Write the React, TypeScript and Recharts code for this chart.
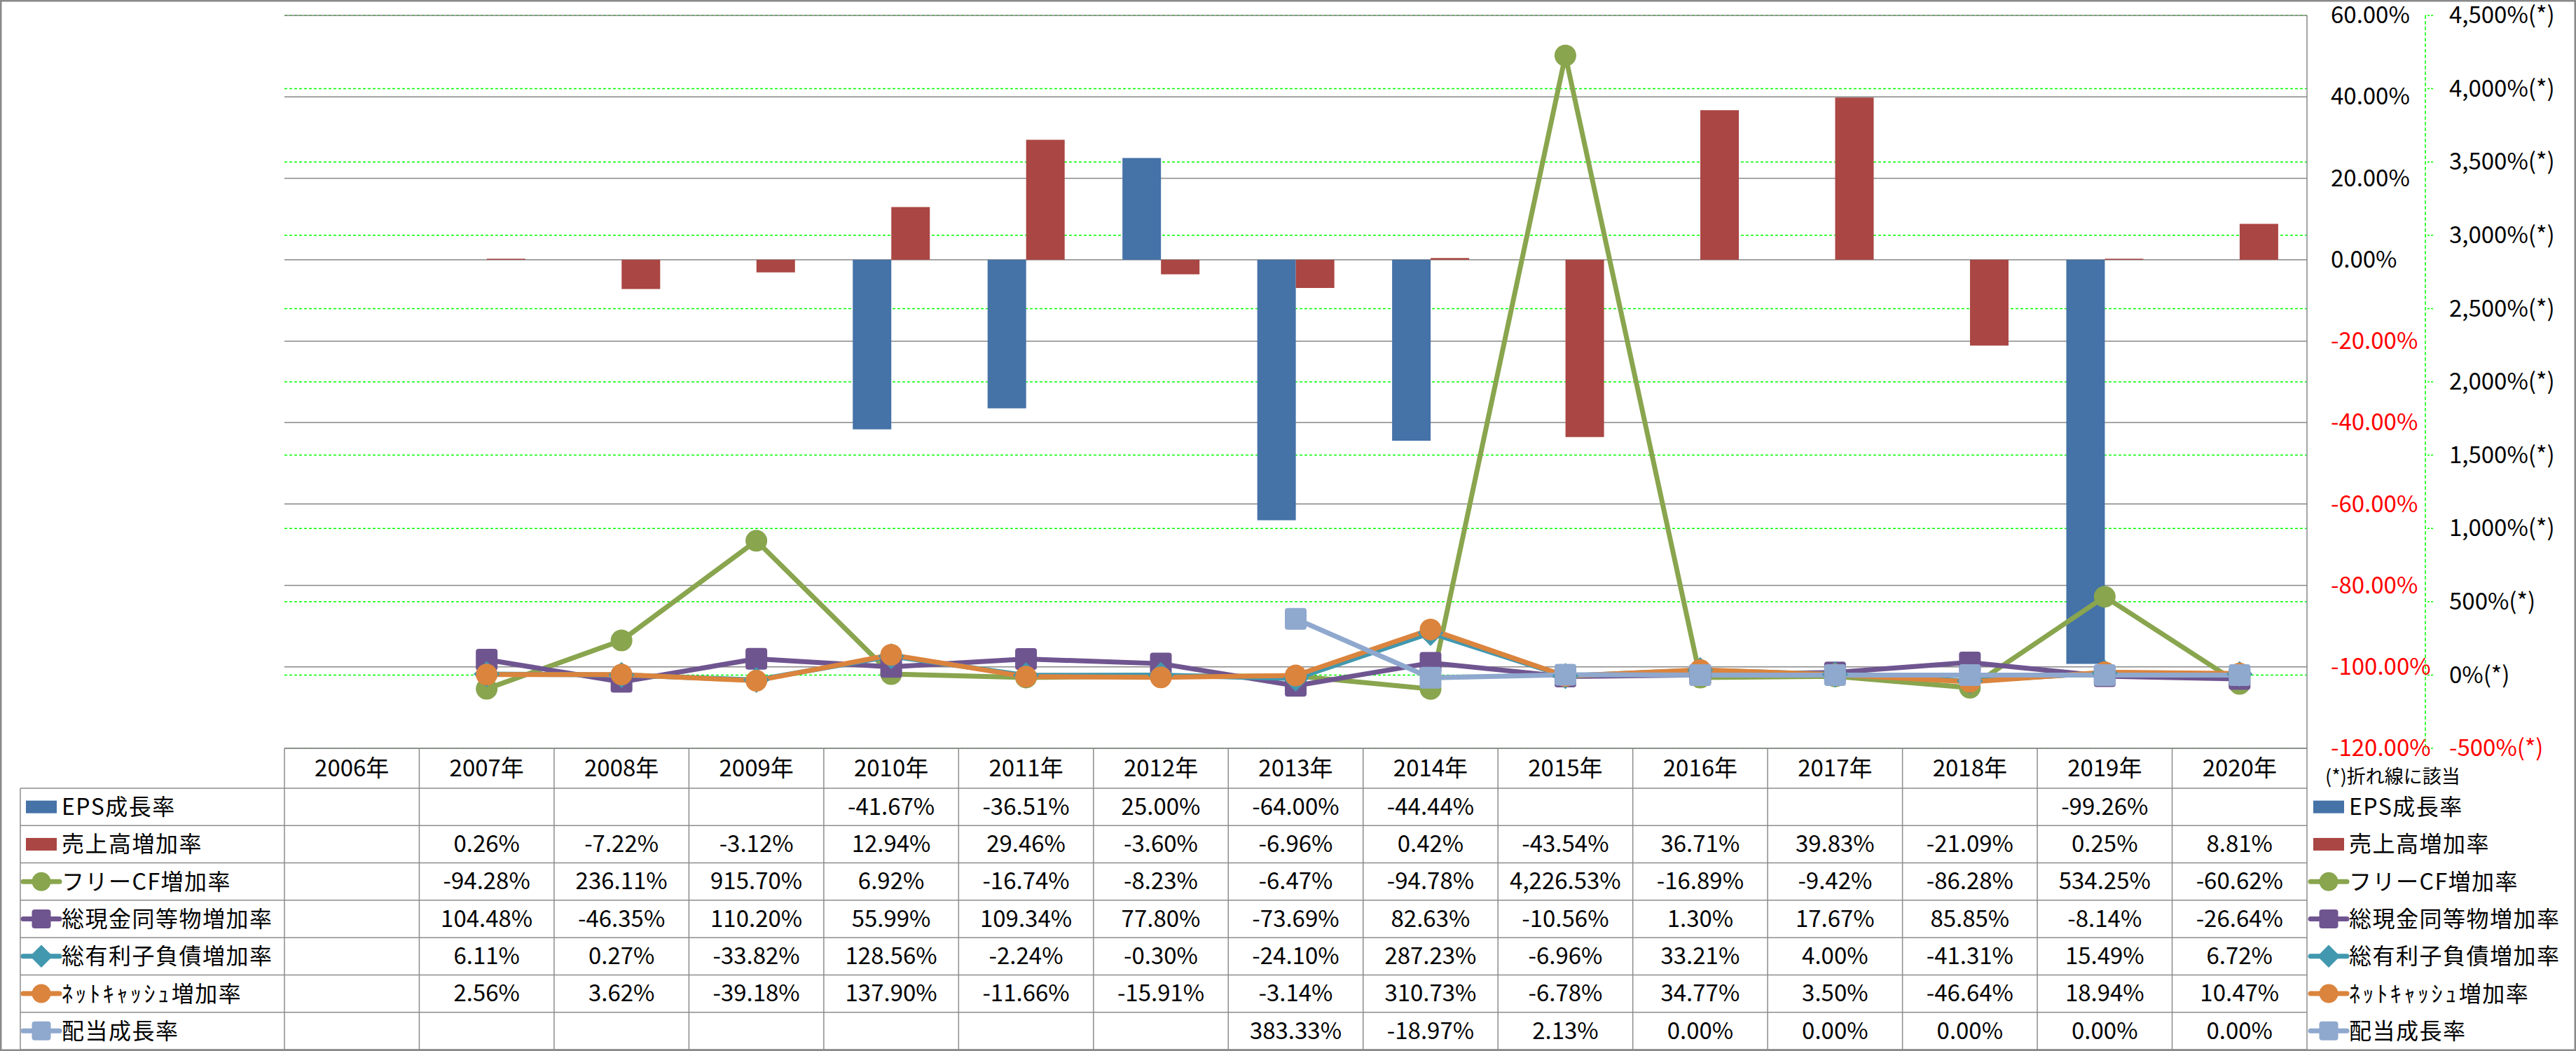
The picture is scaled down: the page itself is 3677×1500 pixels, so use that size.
import React from 'react';
import { ComposedChart, Bar, Line, XAxis, YAxis, CartesianGrid } from 'recharts';

// ---------- data ----------
const years = ['2006年', '2007年', '2008年', '2009年', '2010年', '2011年', '2012年', '2013年', '2014年', '2015年', '2016年', '2017年', '2018年', '2019年', '2020年'];
const epsGrowth = [null, null, null, null, -41.67, -36.51, 25.0, -64.0, -44.44, null, null, null, null, -99.26, null];
const salesGrowth = [null, 0.26, -7.22, -3.12, 12.94, 29.46, -3.6, -6.96, 0.42, -43.54, 36.71, 39.83, -21.09, 0.25, 8.81];
const freeCfGrowth = [null, -94.28, 236.11, 915.7, 6.92, -16.74, -8.23, -6.47, -94.78, 4226.53, -16.89, -9.42, -86.28, 534.25, -60.62];
const cashGrowth = [null, 104.48, -46.35, 110.2, 55.99, 109.34, 77.8, -73.69, 82.63, -10.56, 1.3, 17.67, 85.85, -8.14, -26.64];
const debtGrowth = [null, 6.11, 0.27, -33.82, 128.56, -2.24, -0.3, -24.1, 287.23, -6.96, 33.21, 4.0, -41.31, 15.49, 6.72];
const netCashGrowth = [null, 2.56, 3.62, -39.18, 137.9, -11.66, -15.91, -3.14, 310.73, -6.78, 34.77, 3.5, -46.64, 18.94, 10.47];
const dividendGrowth = [null, null, null, null, null, null, null, 383.33, -18.97, 2.13, 0.0, 0.0, 0.0, 0.0, 0.0];

const barAxisTicks = [60, 40, 20, 0, -20, -40, -60, -80, -100, -120];
const lineAxisTicks = [4500, 4000, 3500, 3000, 2500, 2000, 1500, 1000, 500, 0, -500];
const lineAxisNote = '(*)折れ線に該当';

const seriesNames = ['EPS成長率', '売上高増加率', 'フリーCF増加率', '総現金同等物増加率', '総有利子負債増加率', 'ﾈｯﾄｷｬｯｼｭ増加率', '配当成長率'];
const seriesValues = [epsGrowth, salesGrowth, freeCfGrowth, cashGrowth, debtGrowth, netCashGrowth, dividendGrowth];
const seriesKeys = ['eps', 'sales', 'fcf', 'cash', 'debt', 'net', 'div'];

// ---------- styles ----------
const seriesStyle = [
  { color: '#4572A7', kind: 'bar' },
  { color: '#AA4643', kind: 'bar' },
  { color: '#89A54E', kind: 'circle' },
  { color: '#6F5590', kind: 'square' },
  { color: '#4198AF', kind: 'diamond' },
  { color: '#DB843D', kind: 'circle' },
  { color: '#8FA8CE', kind: 'square' },
];

const FONT = '"Noto Sans CJK JP", "Noto Sans", sans-serif';
const W = 3677;
const H = 1500;
const PLOT_LEFT = 406;
const PLOT_TOP = 22;
const CHART_H = 1090;
const PLOT_BOTTOM = 1068;
const AXIS1_W = 169;
const AXIS2_W = 200;
const MARGIN_RIGHT = 15;
const PLOT_RIGHT = W - MARGIN_RIGHT - AXIS1_W - AXIS2_W;
const GRID_GRAY = '#878787';
const GREEN = '#00FF00';

const chartData = years.map((y, i) => {
  const row: any = { year: y };
  seriesKeys.forEach((k, s) => {
    row[k] = seriesValues[s][i];
  });
  return row;
});

const fmtPct = (v: number | null) =>
  v == null ? '' : v.toLocaleString('en-US', { minimumFractionDigits: 2, maximumFractionDigits: 2 }) + '%';

// split label into runs so half-width katakana get a little extra spacing
function LabelRuns({ text }: { text: string }) {
  const runs: { t: string; hw: boolean }[] = [];
  for (const ch of Array.from(text)) {
    const code = ch.codePointAt(0) || 0;
    const hw = code >= 0xff61 && code <= 0xff9f;
    const last = runs[runs.length - 1];
    if (last && last.hw === hw) last.t += ch;
    else runs.push({ t: ch, hw });
  }
  return (
    <>
      {runs.map((r, i) => (
        <tspan key={i} letterSpacing={r.hw ? 3.6 : 1.5}>
          {r.t}
        </tspan>
      ))}
    </>
  );
}

function MarkerShape({ cx, cy, kind, color, size }: any) {
  if (cx == null || cy == null || isNaN(cx) || isNaN(cy)) return <g />;
  if (kind === 'circle') return <circle cx={cx} cy={cy} r={size / 2} fill={color} />;
  if (kind === 'square')
    return <rect x={cx - size / 2} y={cy - size / 2} width={size} height={size} rx={4} ry={4} fill={color} />;
  const d = size * 0.6;
  return <polygon points={`${cx},${cy - d} ${cx + d},${cy} ${cx},${cy + d} ${cx - d},${cy}`} fill={color} />;
}

const makeDot = (kind: string, color: string, name: string) => (p: any) => {
  const k = `${name}-${p.index}`;
  if (p.value == null || p.cy == null) return <g key={k} />;
  return (
    <g key={k}>
      <MarkerShape cx={p.cx} cy={p.cy} kind={kind} color={color} size={31} />
    </g>
  );
};

const BarAxisTick = (props: any) => {
  const v = props.payload.value;
  return (
    <text x={props.x} y={props.y} dy="0.34em" textAnchor="start" fontFamily={FONT} fontSize={33} fill={v < 0 ? '#FF0000' : '#000000'}>
      {v.toFixed(2) + '%'}
    </text>
  );
};

const LineAxisTick = (props: any) => {
  const v = props.payload.value;
  return (
    <text x={props.x} y={props.y} dy="0.34em" textAnchor="start" fontFamily={FONT} fontSize={33} fill={v < 0 ? '#FF0000' : '#000000'}>
      {v.toLocaleString('en-US') + '%(*)'}
    </text>
  );
};

function LegendIcon({ x, y, s, lineW }: any) {
  const st = seriesStyle[s];
  if (st.kind === 'bar') return <rect x={x + 4} y={y - 9} width={44} height={18} fill={st.color} />;
  return (
    <g>
      <line x1={x} y1={y} x2={x + lineW} y2={y} stroke={st.color} strokeWidth={7} strokeLinecap="round" />
      <MarkerShape cx={x + lineW / 2} cy={y} kind={st.kind} color={st.color} size={27} />
    </g>
  );
}

function TableOverlay() {
  const colW = (PLOT_RIGHT - PLOT_LEFT) / years.length;
  const headTop = PLOT_BOTTOM;
  const headBottom = 1125;
  const tableBottom = 1498;
  const rowH = (tableBottom - headBottom) / seriesNames.length;
  const labelLeft = 29;
  const lineColor = '#8C8C8C';
  const els: any[] = [];
  els.push(<line key="ht" x1={PLOT_LEFT} y1={headTop} x2={PLOT_RIGHT} y2={headTop} stroke={lineColor} strokeWidth={1.5} />);
  for (let r = 0; r <= seriesNames.length; r++) {
    const y = headBottom + r * rowH;
    els.push(<line key={`h${r}`} x1={labelLeft} y1={y} x2={PLOT_RIGHT} y2={y} stroke={lineColor} strokeWidth={1.5} />);
  }
  for (let c = 0; c <= years.length; c++) {
    const x = PLOT_LEFT + c * colW;
    els.push(<line key={`v${c}`} x1={x} y1={headTop} x2={x} y2={c === years.length ? H : tableBottom} stroke={lineColor} strokeWidth={1.5} />);
  }
  els.push(<line key="vl" x1={labelLeft} y1={headBottom} x2={labelLeft} y2={tableBottom} stroke={lineColor} strokeWidth={1.5} />);
  years.forEach((yr, c) => {
    els.push(
      <text key={`yh${c}`} x={PLOT_LEFT + (c + 0.5) * colW} y={(headTop + headBottom) / 2} dy="0.36em" textAnchor="middle" fontFamily={FONT} fontSize={33} fill="#000">
        {yr}
      </text>
    );
  });
  seriesNames.forEach((name, s) => {
    const cy = headBottom + (s + 0.5) * rowH;
    els.push(<LegendIcon key={`li${s}`} x={33} y={cy} s={s} lineW={52} />);
    els.push(
      <text key={`ln${s}`} x={88} y={cy} dy="0.36em" fontFamily={FONT} fontSize={32} fill="#000">
        <LabelRuns text={name} />
      </text>
    );
    seriesValues[s].forEach((v, c) => {
      if (v == null) return;
      els.push(
        <text key={`c${s}-${c}`} x={PLOT_LEFT + (c + 0.5) * colW} y={cy} dy="0.34em" textAnchor="middle" fontFamily={FONT} fontSize={33} fill="#000">
          {fmtPct(v)}
        </text>
      );
    });
    els.push(<LegendIcon key={`ri${s}`} x={PLOT_RIGHT + 5} y={cy} s={s} lineW={52} />);
    els.push(
      <text key={`rn${s}`} x={PLOT_RIGHT + 60} y={cy} dy="0.36em" fontFamily={FONT} fontSize={32} fill="#000">
        <LabelRuns text={name} />
      </text>
    );
  });
  els.push(
    <text key="note" x={PLOT_RIGHT + 26} y={1108} dy="0.36em" fontFamily={FONT} fontSize={27} fill="#000">
      {lineAxisNote}
    </text>
  );
  els.push(<rect key="frame" x={1.25} y={1.25} width={W - 2.5} height={H - 2.5} fill="none" stroke="#8A8A8A" strokeWidth={2.5} />);
  return (
    <svg width={W} height={H} style={{ position: 'absolute', left: 0, top: 0, pointerEvents: 'none' }}>
      {els}
    </svg>
  );
}

export default function App() {
  return (
    <div style={{ position: 'absolute', left: 0, top: 0, width: W, height: H, background: '#fff', fontFamily: FONT }}>
      <div style={{ position: 'absolute', left: 0, top: 0 }}>
        <ComposedChart
          width={W}
          height={CHART_H}
          data={chartData}
          margin={{ top: PLOT_TOP, right: MARGIN_RIGHT, bottom: CHART_H - PLOT_BOTTOM, left: PLOT_LEFT }}
          barCategoryGap="21.5%"
          barGap={0}
          style={{ overflow: 'visible' }}
        >
          <XAxis dataKey="year" hide />
          <YAxis
            yAxisId="bar"
            orientation="right"
            domain={[-120, 60]}
            ticks={barAxisTicks}
            interval={0}
            width={AXIS1_W}
            axisLine={{ stroke: GRID_GRAY, strokeWidth: 1.5 }}
            tickLine={false}
            tickSize={0}
            tickMargin={34}
            tick={BarAxisTick}
            allowDataOverflow
          />
          <YAxis
            yAxisId="line"
            orientation="right"
            domain={[-500, 4500]}
            ticks={lineAxisTicks}
            interval={0}
            width={AXIS2_W}
            axisLine={{ stroke: GREEN, strokeWidth: 1.5, strokeDasharray: '5 3' }}
            tickLine={{ stroke: GREEN, strokeWidth: 1.5, strokeDasharray: '3 2' }}
            tickSize={11}
            tickMargin={23}
            tick={LineAxisTick}
            allowDataOverflow
          />
          <CartesianGrid yAxisId="line" vertical={false} stroke={GREEN} strokeWidth={1.5} strokeDasharray="4 3" />
          <CartesianGrid yAxisId="bar" vertical={false} stroke={GRID_GRAY} strokeWidth={1.5} />
          <Bar yAxisId="bar" dataKey="eps" name={seriesNames[0]} fill={seriesStyle[0].color} isAnimationActive={false} />
          <Bar yAxisId="bar" dataKey="sales" name={seriesNames[1]} fill={seriesStyle[1].color} isAnimationActive={false} />
          {[2, 3, 4, 5, 6].map((s) => (
            <Line
              key={seriesKeys[s]}
              yAxisId="line"
              type="linear"
              dataKey={seriesKeys[s]}
              name={seriesNames[s]}
              stroke={seriesStyle[s].color}
              strokeWidth={7}
              dot={makeDot(seriesStyle[s].kind, seriesStyle[s].color, seriesKeys[s])}
              activeDot={false}
              isAnimationActive={false}
              connectNulls={false}
            />
          ))}
        </ComposedChart>
      </div>
      <TableOverlay />
    </div>
  );
}
